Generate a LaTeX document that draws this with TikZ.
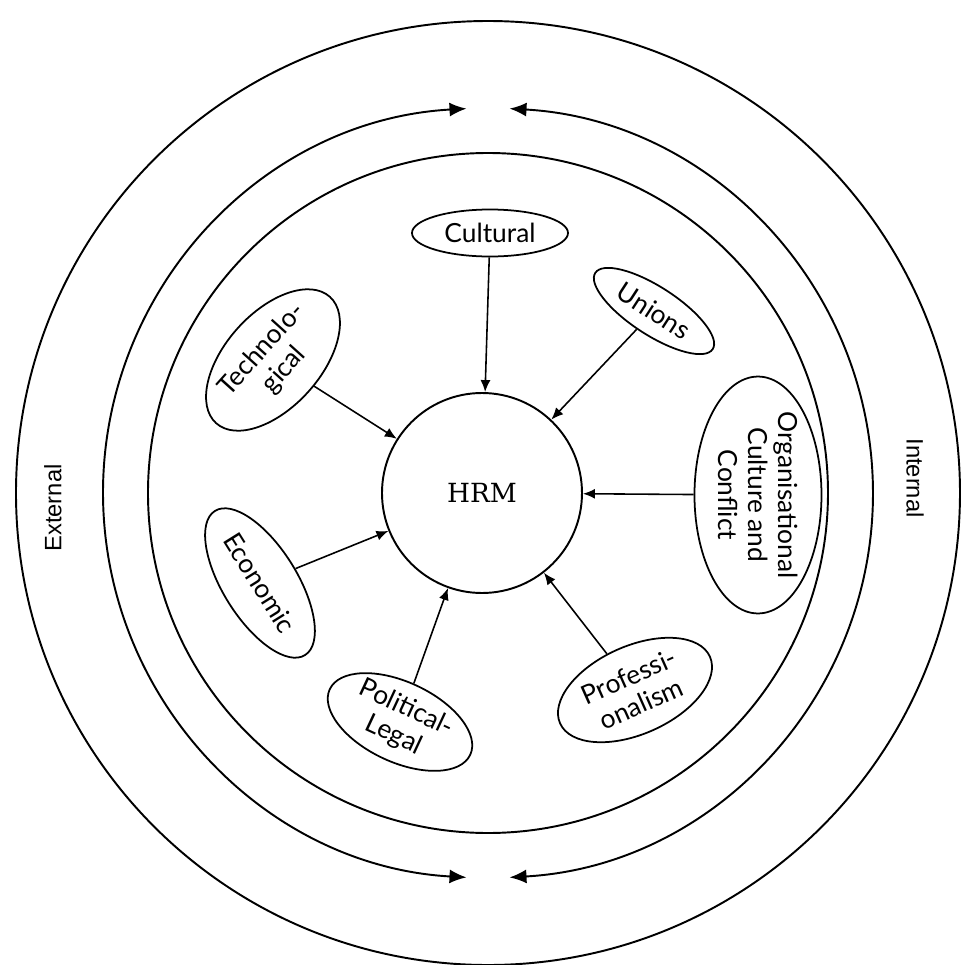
\documentclass[tikz,border=0pt]{standalone}
\usepackage{fontspec}
\setmainfont{Lato}
\newfontfamily\hrmfont{DejaVu Serif}
\newfontfamily\ringfont{Liberation Sans}
\usepackage{tikz}
\usetikzlibrary{shapes,arrows.meta,positioning}

\begin{document}
\begin{tikzpicture}[
		factor/.style={draw,ellipse,line width=1pt,inner sep=0pt,align=center,font=\fontsize{15}{17}\selectfont},
		push/.style={-{Latex[length=2.4mm,width=2mm]},line width=0.9pt},
		ring/.style={line width=1.1pt},
		flow/.style={{Latex[length=3.4mm,width=2.8mm]}-{Latex[length=3.4mm,width=2.8mm]},line width=1.1pt},
		side/.style={font=\ringfont\fontsize{13.5}{16}\selectfont}]
		
		\useasboundingbox (-9.76,-9.44) rectangle (9.5,9.86);
		
		% --- rings ---
		\draw[ring] (0,0) circle (9.44);
		\draw[ring] (0,0) circle (6.8);
		
		% two way arcs (external / internal)
		\draw[flow] (93.2:7.7) arc[start angle=93.2,end angle=266.8,radius=7.7];
		\draw[flow] (-86.8:7.7) arc[start angle=-86.8,end angle=86.8,radius=7.7];
		
		\node[side,rotate=90] (external) at (-8.7,-0.3) {External};
		\node[side,rotate=-90] (internal) at (8.54,0.3) {Internal};
		
		% ======================================================
		% HRM and the factors round it
		% ======================================================
		\node[draw,circle,line width=1.1pt,minimum size=4cm,font=\hrmfont\fontsize{15}{17}\selectfont] (hrm) at (-0.12,0) {HRM};
		
		\node[factor,minimum width=3.12cm,minimum height=0.94cm] (cultural) at (0.04,5.2) {Cultural};
		\node[factor,rotate=-33,minimum width=2.8cm,minimum height=0.96cm] (unions) at (3.32,3.64) {Unions};
		\node[factor,rotate=48,minimum width=3.4cm,minimum height=1.9cm] (techno) at (-4.3,2.66) {Technolo-\\gical};
		\node[factor,rotate=-58,minimum width=3.4cm,minimum height=1.48cm] (economic) at (-4.56,-1.8) {Economic};
		\node[factor,rotate=-25,minimum width=3.1cm,minimum height=1.6cm] (political) at (-1.76,-4.58) {Political-\\Legal};
		\node[factor,rotate=24,minimum width=3.28cm,minimum height=1.76cm] (profession) at (2.94,-3.94) {Professi-\\onalism};
		\node[factor,rotate=-90,minimum width=4.7cm,minimum height=2.54cm] (orgculture) at (5.4,-0.04) {Organisational\\Culture and\\Conflict};
		
		% arrows into HRM
		\foreach \f in {cultural,unions,techno,orgculture,economic,political,profession}
		\draw[push] (\f) -- (hrm);
		
	\end{tikzpicture}
\end{document}
